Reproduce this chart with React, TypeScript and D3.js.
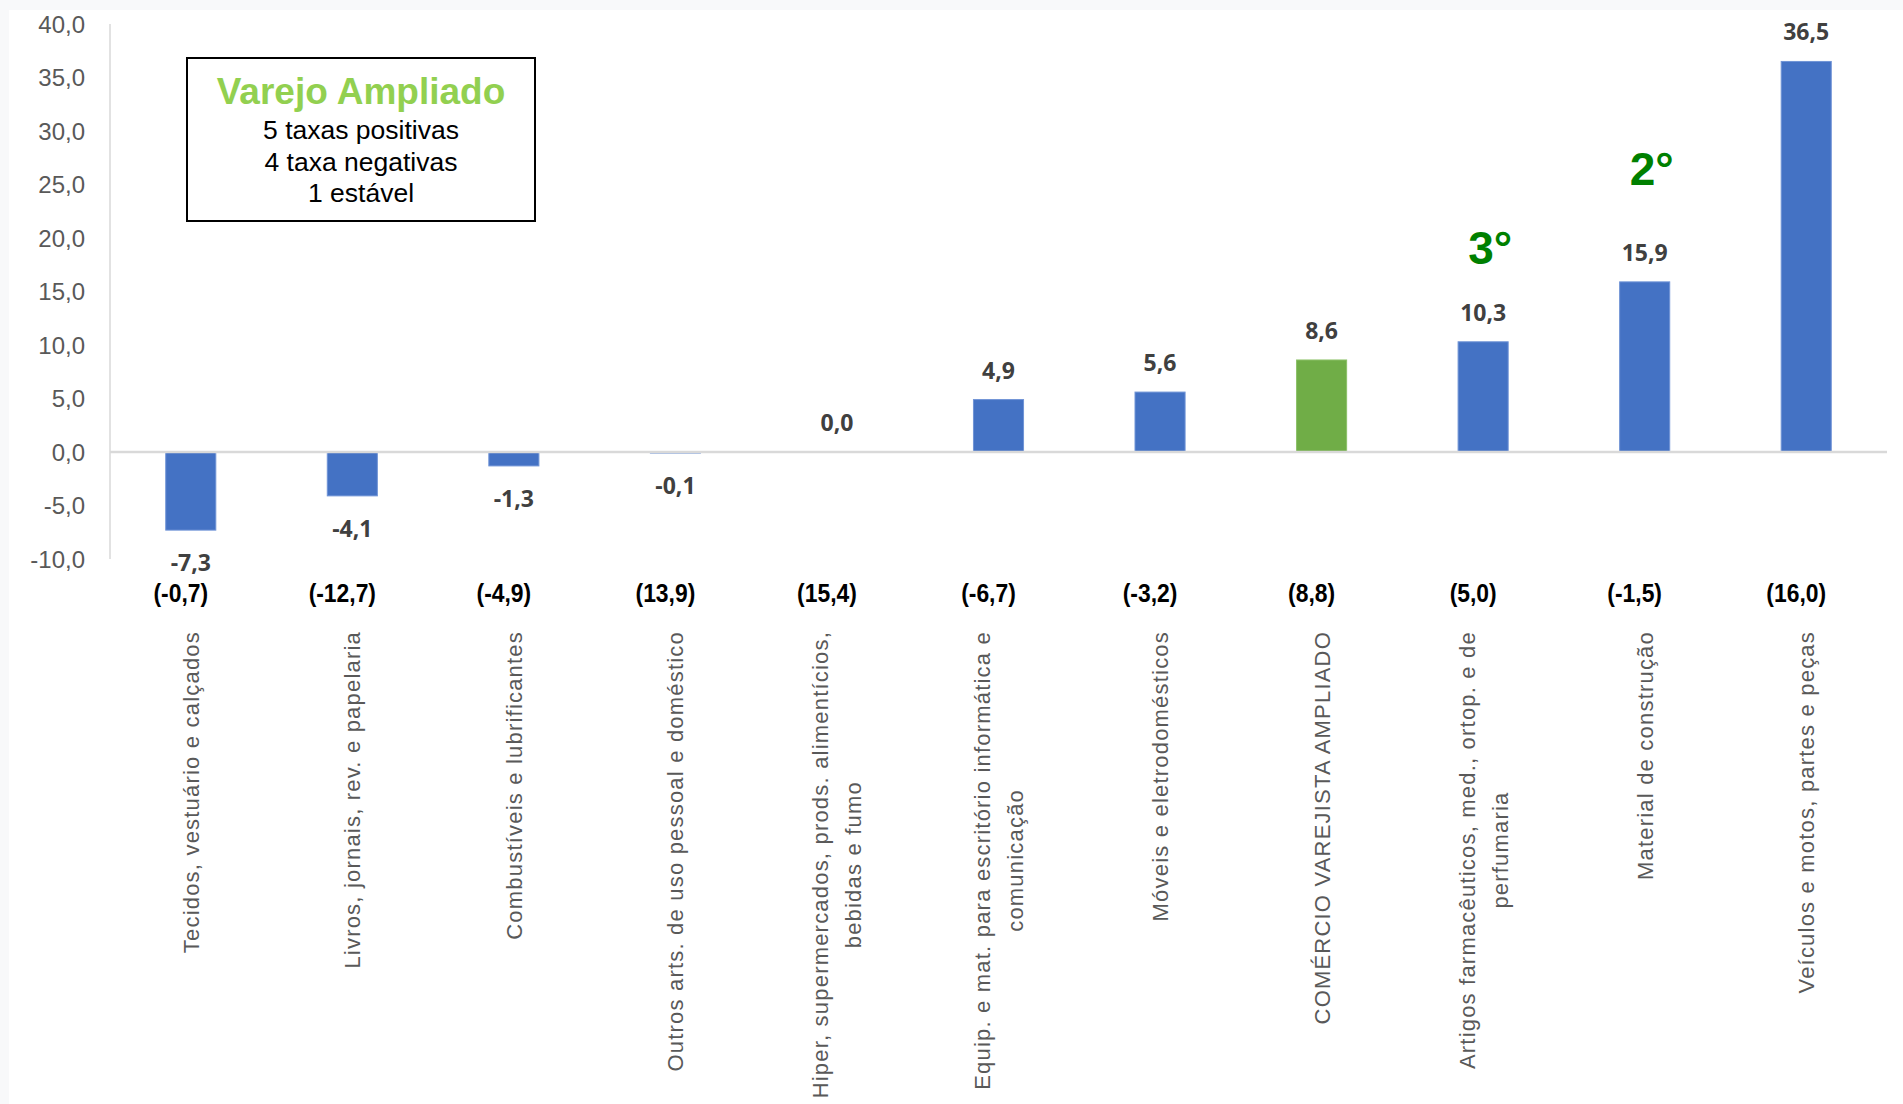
import React, { useEffect, useRef } from "react";
import * as d3 from "d3";

const categoryLines: string[][] = [
  ["Tecidos, vestuário e calçados"],
  ["Livros, jornais, rev. e papelaria"],
  ["Combustíveis e lubrificantes"],
  ["Outros arts. de uso pessoal e doméstico"],
  ["Hiper, supermercados, prods.  alimentícios,", "bebidas e fumo"],
  ["Equip. e mat. para escritório informática e", "comunicação"],
  ["Móveis e eletrodomésticos"],
  ["COMÉRCIO VAREJISTA AMPLIADO"],
  ["Artigos farmacêuticos, med., ortop. e de", "perfumaria"],
  ["Material de construção"],
  ["Veículos e motos, partes e peças"],
];
const values: number[] = [-7.3, -4.1, -1.3, -0.1, 0.0, 4.9, 5.6, 8.6, 10.3, 15.9, 36.5];
const previousValues: number[] = [-0.7, -12.7, -4.9, 13.9, 15.4, -6.7, -3.2, 8.8, 5.0, -1.5, 16.0];
const highlightIndex = 7;
const rankLabels: { index: number; text: string; at: number }[] = [
  { index: 8, text: "3°", at: 17.6 },
  { index: 9, text: "2°", at: 25.0 },
];
const yTicks: number[] = [-10, -5, 0, 5, 10, 15, 20, 25, 30, 35, 40];
const legendTitle = "Varejo Ampliado";
const legendLines: string[] = ["5 taxas positivas", "4 taxa negativas", "1 estável"];

const W = 1903;
const H = 1104;
const fmt = (v: number) => d3.format(".1f")(v).replace(".", ",").replace("−", "-");

export default function App() {
  const ref = useRef<SVGSVGElement | null>(null);

  useEffect(() => {
    document.body.style.margin = "0";
    const svg = d3.select(ref.current);
    svg.selectAll("*").remove();

    svg.append("rect").attr("width", W).attr("height", H).attr("fill", "#f8f9fa");
    svg.append("rect").attr("x", 9).attr("y", 10).attr("width", W - 9).attr("height", H - 10).attr("fill", "#ffffff");

    const idx = values.map((_, i) => i);
    const x = d3.scaleBand<number>().domain(idx).range([110, 1887]).paddingInner(0.69).paddingOuter(0.345);
    const y = d3.scaleLinear().domain([-10, 40]).range([559, 24]);

    // y axis line
    svg.append("line").attr("x1", 110).attr("x2", 110).attr("y1", y(40)).attr("y2", y(-10))
      .attr("stroke", "#d9d9d9").attr("stroke-width", 1.5);

    // tick labels
    svg.append("g").selectAll("text").data(yTicks).join("text")
      .attr("x", 85).attr("y", (d) => y(d)).attr("dy", "0.36em")
      .attr("text-anchor", "end")
      .attr("font-family", "Liberation Sans, Arial, sans-serif")
      .attr("font-size", 24).attr("fill", "#595959")
      .text((d) => fmt(d));

    // bars
    svg.append("g").selectAll("rect").data(values).join("rect")
      .attr("x", (_, i) => x(i)!)
      .attr("width", x.bandwidth())
      .attr("y", (d) => y(Math.max(0, d)))
      .attr("height", (d) => Math.abs(y(d) - y(0)))
      .attr("fill", (_, i) => (i === highlightIndex ? "#70ad47" : "#4472c4"))
      .attr("stroke", (_, i) => (i === highlightIndex ? "#8cc068" : "#7094d6"))
      .attr("stroke-width", 1);

    // zero line
    svg.append("line").attr("x1", 110).attr("x2", 1887).attr("y1", y(0)).attr("y2", y(0))
      .attr("stroke", "#d9d9d9").attr("stroke-width", 2.5);

    // value labels
    svg.append("g").selectAll("text").data(values).join("text")
      .attr("x", (_, i) => x(i)! + x.bandwidth() / 2)
      .attr("y", (d) => (d < 0 ? y(d) + 41 : y(d) - 21))
      .attr("text-anchor", "middle")
      .attr("font-family", "Open Sans, sans-serif")
      .attr("font-weight", "bold")
      .attr("font-size", 23).attr("fill", "#404040")
      .text((d) => fmt(d));

    // previous values
    const py = 602;
    svg.append("g").selectAll("text").data(previousValues).join("text")
      .attr("x", (_, i) => x(i)! + x.bandwidth() / 2 - 10)
      .attr("y", py)
      .attr("text-anchor", "middle")
      .attr("font-family", "Liberation Sans, Arial, sans-serif")
      .attr("font-weight", "bold")
      .attr("font-size", 26).attr("fill", "#000000")
      .attr("transform", (_, i) => {
        const cx = x(i)! + x.bandwidth() / 2 - 10;
        return `translate(${cx},${py}) scale(0.88,1) translate(${-cx},${-py})`;
      })
      .text((d) => `(${fmt(d)})`);

    // category labels
    const lineGap = 33;
    categoryLines.forEach((lines, i) => {
      const cx = x(i)! + x.bandwidth() / 2;
      const g = svg.append("g").attr("transform", `translate(${cx},631) rotate(-90)`);
      const texts = lines.map((t, j) =>
        g.append("text")
          .attr("y", (j - (lines.length - 1) / 2) * lineGap)
          .attr("dy", "0.36em")
          .attr("font-family", "Liberation Sans, Arial, sans-serif")
          .attr("font-size", 22)
          .attr("letter-spacing", 1.2)
          .attr("fill", "#595959")
          .attr("text-anchor", "middle")
          .text(t)
      );
      const maxL = d3.max(texts, (t) => (t.node() as SVGTextElement).getComputedTextLength()) || 0;
      texts.forEach((t) => t.attr("x", -maxL / 2));
    });

    // legend box
    svg.append("rect").attr("x", 187).attr("y", 58).attr("width", 348).attr("height", 163)
      .attr("fill", "#ffffff").attr("stroke", "#000000").attr("stroke-width", 2);
    svg.append("text").attr("x", 361).attr("y", 104).attr("text-anchor", "middle")
      .attr("font-family", "Liberation Sans, Arial, sans-serif").attr("font-weight", "bold")
      .attr("font-size", 37).attr("fill", "#92d050").text(legendTitle);
    svg.append("g").selectAll("text").data(legendLines).join("text")
      .attr("x", 361).attr("y", (_, j) => 139 + j * 31.5).attr("text-anchor", "middle")
      .attr("font-family", "Liberation Sans, Arial, sans-serif")
      .attr("font-size", 26.5).attr("fill", "#000000").text((d) => d);

    // rank labels
    svg.append("g").selectAll("text").data(rankLabels).join("text")
      .attr("x", (d) => x(d.index)! + x.bandwidth() / 2 + 7)
      .attr("y", (d) => y(d.at))
      .attr("text-anchor", "middle")
      .attr("font-family", "Liberation Sans, Arial, sans-serif").attr("font-weight", "bold")
      .attr("font-size", 46).attr("fill", "#008000").text((d) => d.text);
  }, []);

  return (
    <div style={{ position: "absolute", left: 0, top: 0 }}>
      <svg ref={ref} width={W} height={H} style={{ display: "block" }} />
    </div>
  );
}
